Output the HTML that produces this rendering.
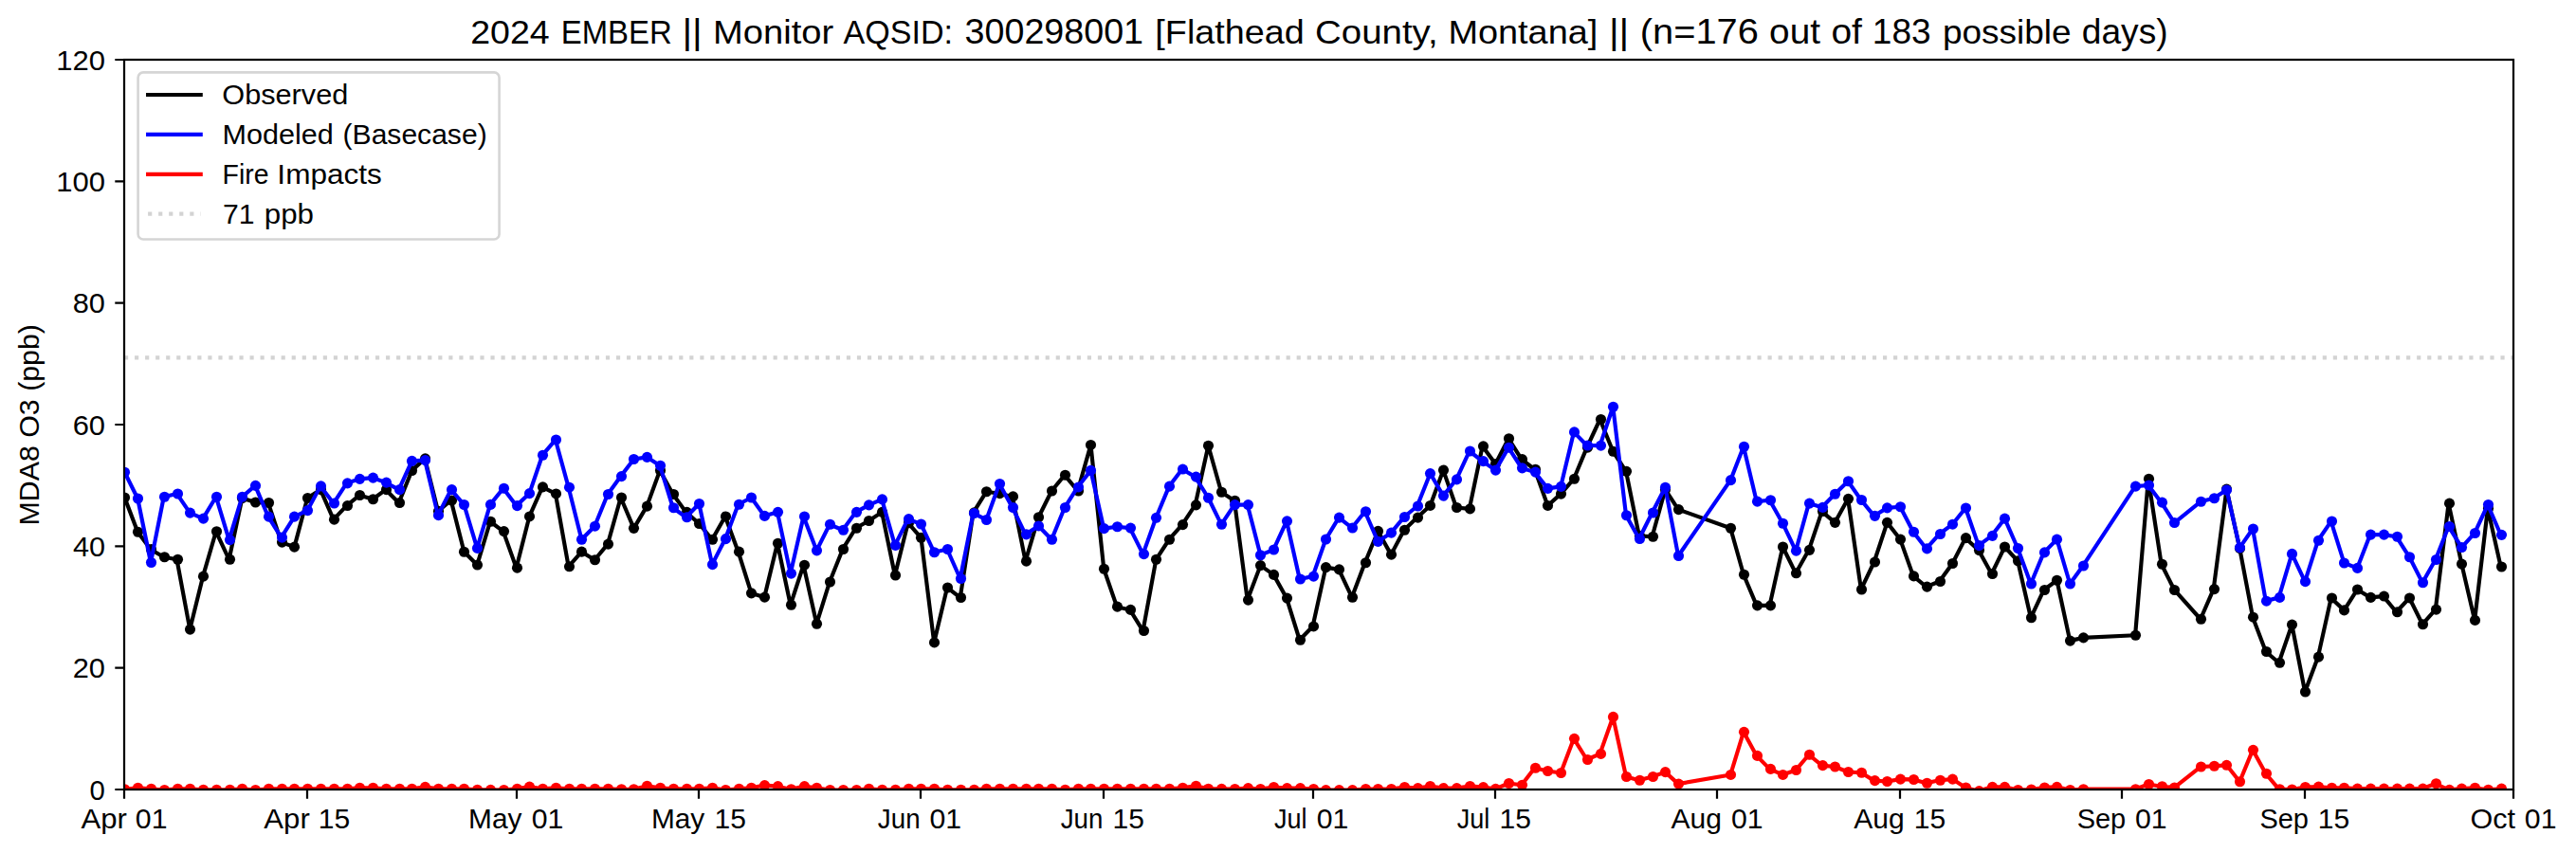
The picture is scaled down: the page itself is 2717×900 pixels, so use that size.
<!DOCTYPE html>
<html><head><meta charset="utf-8"><title>2024 EMBER Monitor 300298001</title><style>html,body{margin:0;padding:0;background:#fff;overflow:hidden}svg{display:block}</style></head><body>
<svg width="2717" height="900" viewBox="0 0 2717 900" font-family="'Liberation Sans', sans-serif">
<rect x="0" y="0" width="2717" height="900" fill="#fff"/>
<defs><clipPath id="ax"><rect x="131.0" y="63.0" width="2520.0" height="770.0"/></clipPath></defs>
<g clip-path="url(#ax)">
<path d="M131.45,524.99 L145.22,561.28 L158.99,579.68 L172.76,587.75 L186.53,590.27 L200.30,664.12 L214.07,608.16 L227.84,560.78 L241.61,590.27 L255.38,525.49 L269.15,530.03 L282.93,530.53 L296.70,572.12 L310.47,577.16 L324.24,525.49 L338.01,516.67 L351.78,548.18 L365.55,533.56 L379.32,522.47 L393.09,526.75 L406.86,516.67 L420.63,530.53 L434.40,496.51 L448.17,483.90 L461.94,539.35 L475.71,528.01 L489.48,582.20 L503.25,596.06 L517.02,550.25 L530.79,560.59 L544.56,599.16 L558.34,544.94 L572.11,513.92 L585.88,520.94 L599.65,597.81 L613.42,582.16 L627.19,590.80 L640.96,574.07 L654.73,524.98 L668.50,557.35 L682.27,534.15 L696.04,496.39 L709.81,521.48 L723.58,540.36 L737.35,552.49 L751.12,569.22 L764.89,544.94 L778.66,582.16 L792.43,625.86 L806.20,630.18 L819.97,573.26 L833.75,638.27 L847.52,596.19 L861.29,658.23 L875.06,613.99 L888.83,579.47 L902.60,557.23 L916.37,549.55 L930.14,540.38 L943.91,607.00 L957.68,551.71 L971.45,567.35 L985.22,677.94 L998.99,619.95 L1012.76,630.47 L1026.53,540.92 L1040.30,518.80 L1054.07,520.69 L1067.84,523.92 L1081.61,592.16 L1095.38,545.77 L1109.15,517.99 L1122.93,501.27 L1136.70,517.99 L1150.47,469.44 L1164.24,600.26 L1178.01,640.18 L1191.78,643.41 L1205.55,665.53 L1219.32,590.28 L1233.09,569.24 L1246.86,553.59 L1260.63,532.83 L1274.40,470.25 L1288.17,519.21 L1301.94,528.27 L1315.71,633.08 L1329.48,596.62 L1343.25,606.38 L1357.02,631.07 L1370.79,675.29 L1384.56,660.94 L1398.34,598.63 L1412.11,600.92 L1425.88,630.21 L1439.65,593.74 L1453.42,560.43 L1467.19,585.13 L1480.96,559.29 L1494.73,546.08 L1508.50,533.44 L1522.27,496.11 L1536.04,535.45 L1549.81,536.89 L1563.58,470.84 L1577.35,489.51 L1591.12,462.80 L1604.89,484.63 L1618.66,495.25 L1632.43,533.44 L1646.20,521.09 L1659.97,505.30 L1673.75,472.16 L1687.52,442.50 L1701.29,476.26 L1715.06,497.36 L1728.83,565.43 L1742.60,566.27 L1756.37,516.48 L1770.14,537.58 L1825.22,557.27 L1838.99,606.22 L1852.76,638.85 L1866.53,638.85 L1880.30,576.96 L1894.07,604.81 L1907.84,580.34 L1921.61,539.55 L1935.38,551.36 L1949.15,526.33 L1962.93,621.97 L1976.70,593.00 L1990.47,551.36 L2004.24,569.09 L2018.01,607.90 L2031.78,619.16 L2045.55,613.53 L2059.32,594.52 L2073.09,567.67 L2086.86,580.57 L2100.63,605.48 L2114.40,577.05 L2128.17,591.70 L2141.94,651.78 L2155.71,622.47 L2169.48,612.22 L2183.25,676.10 L2197.02,672.88 L2252.11,670.24 L2265.88,505.26 L2279.65,595.22 L2293.42,622.47 L2320.96,653.24 L2334.73,621.59 L2348.50,516.10 L2362.27,578.52 L2376.04,651.19 L2389.81,687.53 L2403.58,699.25 L2417.35,659.10 L2431.12,730.02 L2444.89,693.17 L2458.66,630.94 L2472.43,643.89 L2486.20,622.05 L2499.97,630.40 L2513.75,629.06 L2527.52,645.77 L2541.29,630.94 L2555.06,658.72 L2568.83,643.08 L2582.60,531.18 L2596.37,595.08 L2610.14,654.40 L2623.91,536.57 L2637.68,598.05" fill="none" stroke="#000000" stroke-width="4.167" stroke-linejoin="round" stroke-linecap="square"/>
<g fill="#000000"><circle cx="131.5" cy="524.99" r="5.56"/><circle cx="145.5" cy="561.28" r="5.56"/><circle cx="159.5" cy="579.68" r="5.56"/><circle cx="173.5" cy="587.75" r="5.56"/><circle cx="187.5" cy="590.27" r="5.56"/><circle cx="200.5" cy="664.12" r="5.56"/><circle cx="214.5" cy="608.16" r="5.56"/><circle cx="228.5" cy="560.78" r="5.56"/><circle cx="242.5" cy="590.27" r="5.56"/><circle cx="255.5" cy="525.49" r="5.56"/><circle cx="269.5" cy="530.03" r="5.56"/><circle cx="283.5" cy="530.53" r="5.56"/><circle cx="297.5" cy="572.12" r="5.56"/><circle cx="310.5" cy="577.16" r="5.56"/><circle cx="324.5" cy="525.49" r="5.56"/><circle cx="338.5" cy="516.67" r="5.56"/><circle cx="352.5" cy="548.18" r="5.56"/><circle cx="366.5" cy="533.56" r="5.56"/><circle cx="379.5" cy="522.47" r="5.56"/><circle cx="393.5" cy="526.75" r="5.56"/><circle cx="407.5" cy="516.67" r="5.56"/><circle cx="421.5" cy="530.53" r="5.56"/><circle cx="434.5" cy="496.51" r="5.56"/><circle cx="448.5" cy="483.90" r="5.56"/><circle cx="462.5" cy="539.35" r="5.56"/><circle cx="476.5" cy="528.01" r="5.56"/><circle cx="489.5" cy="582.20" r="5.56"/><circle cx="503.5" cy="596.06" r="5.56"/><circle cx="517.5" cy="550.25" r="5.56"/><circle cx="531.5" cy="560.59" r="5.56"/><circle cx="545.5" cy="599.16" r="5.56"/><circle cx="558.5" cy="544.94" r="5.56"/><circle cx="572.5" cy="513.92" r="5.56"/><circle cx="586.5" cy="520.94" r="5.56"/><circle cx="600.5" cy="597.81" r="5.56"/><circle cx="613.5" cy="582.16" r="5.56"/><circle cx="627.5" cy="590.80" r="5.56"/><circle cx="641.5" cy="574.07" r="5.56"/><circle cx="655.5" cy="524.98" r="5.56"/><circle cx="668.5" cy="557.35" r="5.56"/><circle cx="682.5" cy="534.15" r="5.56"/><circle cx="696.5" cy="496.39" r="5.56"/><circle cx="710.5" cy="521.48" r="5.56"/><circle cx="724.5" cy="540.36" r="5.56"/><circle cx="737.5" cy="552.49" r="5.56"/><circle cx="751.5" cy="569.22" r="5.56"/><circle cx="765.5" cy="544.94" r="5.56"/><circle cx="779.5" cy="582.16" r="5.56"/><circle cx="792.5" cy="625.86" r="5.56"/><circle cx="806.5" cy="630.18" r="5.56"/><circle cx="820.5" cy="573.26" r="5.56"/><circle cx="834.5" cy="638.27" r="5.56"/><circle cx="848.5" cy="596.19" r="5.56"/><circle cx="861.5" cy="658.23" r="5.56"/><circle cx="875.5" cy="613.99" r="5.56"/><circle cx="889.5" cy="579.47" r="5.56"/><circle cx="903.5" cy="557.23" r="5.56"/><circle cx="916.5" cy="549.55" r="5.56"/><circle cx="930.5" cy="540.38" r="5.56"/><circle cx="944.5" cy="607.00" r="5.56"/><circle cx="958.5" cy="551.71" r="5.56"/><circle cx="971.5" cy="567.35" r="5.56"/><circle cx="985.5" cy="677.94" r="5.56"/><circle cx="999.5" cy="619.95" r="5.56"/><circle cx="1013.5" cy="630.47" r="5.56"/><circle cx="1027.5" cy="540.92" r="5.56"/><circle cx="1040.5" cy="518.80" r="5.56"/><circle cx="1054.5" cy="520.69" r="5.56"/><circle cx="1068.5" cy="523.92" r="5.56"/><circle cx="1082.5" cy="592.16" r="5.56"/><circle cx="1095.5" cy="545.77" r="5.56"/><circle cx="1109.5" cy="517.99" r="5.56"/><circle cx="1123.5" cy="501.27" r="5.56"/><circle cx="1137.5" cy="517.99" r="5.56"/><circle cx="1150.5" cy="469.44" r="5.56"/><circle cx="1164.5" cy="600.26" r="5.56"/><circle cx="1178.5" cy="640.18" r="5.56"/><circle cx="1192.5" cy="643.41" r="5.56"/><circle cx="1206.5" cy="665.53" r="5.56"/><circle cx="1219.5" cy="590.28" r="5.56"/><circle cx="1233.5" cy="569.24" r="5.56"/><circle cx="1247.5" cy="553.59" r="5.56"/><circle cx="1261.5" cy="532.83" r="5.56"/><circle cx="1274.5" cy="470.25" r="5.56"/><circle cx="1288.5" cy="519.21" r="5.56"/><circle cx="1302.5" cy="528.27" r="5.56"/><circle cx="1316.5" cy="633.08" r="5.56"/><circle cx="1329.5" cy="596.62" r="5.56"/><circle cx="1343.5" cy="606.38" r="5.56"/><circle cx="1357.5" cy="631.07" r="5.56"/><circle cx="1371.5" cy="675.29" r="5.56"/><circle cx="1385.5" cy="660.94" r="5.56"/><circle cx="1398.5" cy="598.63" r="5.56"/><circle cx="1412.5" cy="600.92" r="5.56"/><circle cx="1426.5" cy="630.21" r="5.56"/><circle cx="1440.5" cy="593.74" r="5.56"/><circle cx="1453.5" cy="560.43" r="5.56"/><circle cx="1467.5" cy="585.13" r="5.56"/><circle cx="1481.5" cy="559.29" r="5.56"/><circle cx="1495.5" cy="546.08" r="5.56"/><circle cx="1508.5" cy="533.44" r="5.56"/><circle cx="1522.5" cy="496.11" r="5.56"/><circle cx="1536.5" cy="535.45" r="5.56"/><circle cx="1550.5" cy="536.89" r="5.56"/><circle cx="1564.5" cy="470.84" r="5.56"/><circle cx="1577.5" cy="489.51" r="5.56"/><circle cx="1591.5" cy="462.80" r="5.56"/><circle cx="1605.5" cy="484.63" r="5.56"/><circle cx="1619.5" cy="495.25" r="5.56"/><circle cx="1632.5" cy="533.44" r="5.56"/><circle cx="1646.5" cy="521.09" r="5.56"/><circle cx="1660.5" cy="505.30" r="5.56"/><circle cx="1674.5" cy="472.16" r="5.56"/><circle cx="1688.5" cy="442.50" r="5.56"/><circle cx="1701.5" cy="476.26" r="5.56"/><circle cx="1715.5" cy="497.36" r="5.56"/><circle cx="1729.5" cy="565.43" r="5.56"/><circle cx="1743.5" cy="566.27" r="5.56"/><circle cx="1756.5" cy="516.48" r="5.56"/><circle cx="1770.5" cy="537.58" r="5.56"/><circle cx="1825.5" cy="557.27" r="5.56"/><circle cx="1839.5" cy="606.22" r="5.56"/><circle cx="1853.5" cy="638.85" r="5.56"/><circle cx="1867.5" cy="638.85" r="5.56"/><circle cx="1880.5" cy="576.96" r="5.56"/><circle cx="1894.5" cy="604.81" r="5.56"/><circle cx="1908.5" cy="580.34" r="5.56"/><circle cx="1922.5" cy="539.55" r="5.56"/><circle cx="1935.5" cy="551.36" r="5.56"/><circle cx="1949.5" cy="526.33" r="5.56"/><circle cx="1963.5" cy="621.97" r="5.56"/><circle cx="1977.5" cy="593.00" r="5.56"/><circle cx="1990.5" cy="551.36" r="5.56"/><circle cx="2004.5" cy="569.09" r="5.56"/><circle cx="2018.5" cy="607.90" r="5.56"/><circle cx="2032.5" cy="619.16" r="5.56"/><circle cx="2046.5" cy="613.53" r="5.56"/><circle cx="2059.5" cy="594.52" r="5.56"/><circle cx="2073.5" cy="567.67" r="5.56"/><circle cx="2087.5" cy="580.57" r="5.56"/><circle cx="2101.5" cy="605.48" r="5.56"/><circle cx="2114.5" cy="577.05" r="5.56"/><circle cx="2128.5" cy="591.70" r="5.56"/><circle cx="2142.5" cy="651.78" r="5.56"/><circle cx="2156.5" cy="622.47" r="5.56"/><circle cx="2169.5" cy="612.22" r="5.56"/><circle cx="2183.5" cy="676.10" r="5.56"/><circle cx="2197.5" cy="672.88" r="5.56"/><circle cx="2252.5" cy="670.24" r="5.56"/><circle cx="2266.5" cy="505.26" r="5.56"/><circle cx="2280.5" cy="595.22" r="5.56"/><circle cx="2293.5" cy="622.47" r="5.56"/><circle cx="2321.5" cy="653.24" r="5.56"/><circle cx="2335.5" cy="621.59" r="5.56"/><circle cx="2348.5" cy="516.10" r="5.56"/><circle cx="2362.5" cy="578.52" r="5.56"/><circle cx="2376.5" cy="651.19" r="5.56"/><circle cx="2390.5" cy="687.53" r="5.56"/><circle cx="2404.5" cy="699.25" r="5.56"/><circle cx="2417.5" cy="659.10" r="5.56"/><circle cx="2431.5" cy="730.02" r="5.56"/><circle cx="2445.5" cy="693.17" r="5.56"/><circle cx="2459.5" cy="630.94" r="5.56"/><circle cx="2472.5" cy="643.89" r="5.56"/><circle cx="2486.5" cy="622.05" r="5.56"/><circle cx="2500.5" cy="630.40" r="5.56"/><circle cx="2514.5" cy="629.06" r="5.56"/><circle cx="2528.5" cy="645.77" r="5.56"/><circle cx="2541.5" cy="630.94" r="5.56"/><circle cx="2555.5" cy="658.72" r="5.56"/><circle cx="2569.5" cy="643.08" r="5.56"/><circle cx="2583.5" cy="531.18" r="5.56"/><circle cx="2596.5" cy="595.08" r="5.56"/><circle cx="2610.5" cy="654.40" r="5.56"/><circle cx="2624.5" cy="536.57" r="5.56"/><circle cx="2638.5" cy="598.05" r="5.56"/></g>
<path d="M131.45,498.27 L145.22,526.00 L158.99,593.54 L172.76,524.23 L186.53,520.95 L200.30,541.12 L214.07,547.17 L227.84,524.23 L241.61,569.60 L255.38,524.23 L269.15,512.39 L282.93,545.15 L296.70,567.08 L310.47,545.15 L324.24,538.60 L338.01,512.89 L351.78,531.04 L365.55,509.86 L379.32,505.33 L393.09,504.07 L406.86,509.11 L420.63,516.67 L434.40,486.42 L448.17,485.67 L461.94,543.64 L475.71,516.67 L489.48,532.55 L503.25,578.42 L517.02,532.41 L530.79,515.27 L544.56,533.61 L558.34,520.67 L572.11,480.21 L585.88,464.03 L599.65,514.19 L613.42,569.22 L627.19,555.19 L640.96,521.48 L654.73,502.60 L668.50,484.52 L682.27,482.37 L696.04,491.27 L709.81,535.77 L723.58,545.75 L737.35,531.46 L751.12,595.65 L764.89,568.68 L778.66,532.27 L792.43,524.98 L806.20,544.40 L819.97,540.36 L833.75,605.09 L847.52,544.94 L861.29,580.82 L875.06,553.30 L888.83,559.24 L902.60,540.37 L916.37,532.83 L930.14,526.89 L943.91,575.44 L957.68,547.66 L971.45,553.05 L985.22,582.72 L998.99,579.49 L1012.76,610.51 L1026.53,541.46 L1040.30,548.47 L1054.07,510.44 L1067.84,535.52 L1081.61,563.84 L1095.38,554.94 L1109.15,569.24 L1122.93,535.52 L1136.70,513.94 L1150.47,496.41 L1164.24,557.64 L1178.01,555.75 L1191.78,557.10 L1205.55,584.61 L1219.32,546.31 L1233.09,513.14 L1246.86,495.06 L1260.63,503.16 L1274.40,525.27 L1288.17,553.30 L1301.94,532.58 L1315.71,532.58 L1329.48,585.70 L1343.25,579.96 L1357.02,549.81 L1370.79,610.97 L1384.56,608.10 L1398.34,569.05 L1412.11,546.08 L1425.88,556.99 L1439.65,539.76 L1453.42,571.35 L1467.19,562.16 L1480.96,545.50 L1494.73,534.02 L1508.50,499.56 L1522.27,523.10 L1536.04,505.88 L1549.81,476.01 L1563.58,486.64 L1577.35,496.11 L1591.12,472.28 L1604.89,493.82 L1618.66,498.12 L1632.43,515.35 L1646.20,513.34 L1659.97,455.91 L1673.75,470.02 L1687.52,470.07 L1701.29,429.28 L1715.06,543.77 L1728.83,568.52 L1742.60,540.96 L1756.37,514.23 L1770.14,586.53 L1825.22,506.64 L1838.99,471.20 L1852.76,529.14 L1866.53,527.74 L1880.30,552.21 L1894.07,581.18 L1907.84,531.11 L1921.61,535.33 L1935.38,521.27 L1949.15,507.76 L1962.93,527.45 L1976.70,544.33 L1990.47,535.89 L2004.24,534.77 L2018.01,561.21 L2031.78,578.93 L2045.55,563.46 L2059.32,553.19 L2073.09,536.03 L2086.86,575.59 L2100.63,565.33 L2114.40,547.16 L2128.17,578.52 L2141.94,616.03 L2155.71,582.91 L2169.48,569.14 L2183.25,616.03 L2197.02,596.98 L2252.11,513.17 L2265.88,512.00 L2279.65,530.16 L2293.42,551.56 L2320.96,529.29 L2334.73,525.77 L2348.50,516.98 L2362.27,577.93 L2376.04,558.00 L2389.81,634.19 L2403.58,630.38 L2417.35,584.38 L2431.12,613.68 L2444.89,570.29 L2458.66,550.05 L2472.43,594.00 L2486.20,599.40 L2499.97,564.07 L2513.75,564.07 L2527.52,566.23 L2541.29,587.80 L2555.06,614.77 L2568.83,590.50 L2582.60,555.45 L2596.37,577.56 L2610.14,562.46 L2623.91,532.53 L2637.68,564.34" fill="none" stroke="#0000ff" stroke-width="4.167" stroke-linejoin="round" stroke-linecap="square"/>
<g fill="#0000ff"><circle cx="131.5" cy="498.27" r="5.56"/><circle cx="145.5" cy="526.00" r="5.56"/><circle cx="159.5" cy="593.54" r="5.56"/><circle cx="173.5" cy="524.23" r="5.56"/><circle cx="187.5" cy="520.95" r="5.56"/><circle cx="200.5" cy="541.12" r="5.56"/><circle cx="214.5" cy="547.17" r="5.56"/><circle cx="228.5" cy="524.23" r="5.56"/><circle cx="242.5" cy="569.60" r="5.56"/><circle cx="255.5" cy="524.23" r="5.56"/><circle cx="269.5" cy="512.39" r="5.56"/><circle cx="283.5" cy="545.15" r="5.56"/><circle cx="297.5" cy="567.08" r="5.56"/><circle cx="310.5" cy="545.15" r="5.56"/><circle cx="324.5" cy="538.60" r="5.56"/><circle cx="338.5" cy="512.89" r="5.56"/><circle cx="352.5" cy="531.04" r="5.56"/><circle cx="366.5" cy="509.86" r="5.56"/><circle cx="379.5" cy="505.33" r="5.56"/><circle cx="393.5" cy="504.07" r="5.56"/><circle cx="407.5" cy="509.11" r="5.56"/><circle cx="421.5" cy="516.67" r="5.56"/><circle cx="434.5" cy="486.42" r="5.56"/><circle cx="448.5" cy="485.67" r="5.56"/><circle cx="462.5" cy="543.64" r="5.56"/><circle cx="476.5" cy="516.67" r="5.56"/><circle cx="489.5" cy="532.55" r="5.56"/><circle cx="503.5" cy="578.42" r="5.56"/><circle cx="517.5" cy="532.41" r="5.56"/><circle cx="531.5" cy="515.27" r="5.56"/><circle cx="545.5" cy="533.61" r="5.56"/><circle cx="558.5" cy="520.67" r="5.56"/><circle cx="572.5" cy="480.21" r="5.56"/><circle cx="586.5" cy="464.03" r="5.56"/><circle cx="600.5" cy="514.19" r="5.56"/><circle cx="613.5" cy="569.22" r="5.56"/><circle cx="627.5" cy="555.19" r="5.56"/><circle cx="641.5" cy="521.48" r="5.56"/><circle cx="655.5" cy="502.60" r="5.56"/><circle cx="668.5" cy="484.52" r="5.56"/><circle cx="682.5" cy="482.37" r="5.56"/><circle cx="696.5" cy="491.27" r="5.56"/><circle cx="710.5" cy="535.77" r="5.56"/><circle cx="724.5" cy="545.75" r="5.56"/><circle cx="737.5" cy="531.46" r="5.56"/><circle cx="751.5" cy="595.65" r="5.56"/><circle cx="765.5" cy="568.68" r="5.56"/><circle cx="779.5" cy="532.27" r="5.56"/><circle cx="792.5" cy="524.98" r="5.56"/><circle cx="806.5" cy="544.40" r="5.56"/><circle cx="820.5" cy="540.36" r="5.56"/><circle cx="834.5" cy="605.09" r="5.56"/><circle cx="848.5" cy="544.94" r="5.56"/><circle cx="861.5" cy="580.82" r="5.56"/><circle cx="875.5" cy="553.30" r="5.56"/><circle cx="889.5" cy="559.24" r="5.56"/><circle cx="903.5" cy="540.37" r="5.56"/><circle cx="916.5" cy="532.83" r="5.56"/><circle cx="930.5" cy="526.89" r="5.56"/><circle cx="944.5" cy="575.44" r="5.56"/><circle cx="958.5" cy="547.66" r="5.56"/><circle cx="971.5" cy="553.05" r="5.56"/><circle cx="985.5" cy="582.72" r="5.56"/><circle cx="999.5" cy="579.49" r="5.56"/><circle cx="1013.5" cy="610.51" r="5.56"/><circle cx="1027.5" cy="541.46" r="5.56"/><circle cx="1040.5" cy="548.47" r="5.56"/><circle cx="1054.5" cy="510.44" r="5.56"/><circle cx="1068.5" cy="535.52" r="5.56"/><circle cx="1082.5" cy="563.84" r="5.56"/><circle cx="1095.5" cy="554.94" r="5.56"/><circle cx="1109.5" cy="569.24" r="5.56"/><circle cx="1123.5" cy="535.52" r="5.56"/><circle cx="1137.5" cy="513.94" r="5.56"/><circle cx="1150.5" cy="496.41" r="5.56"/><circle cx="1164.5" cy="557.64" r="5.56"/><circle cx="1178.5" cy="555.75" r="5.56"/><circle cx="1192.5" cy="557.10" r="5.56"/><circle cx="1206.5" cy="584.61" r="5.56"/><circle cx="1219.5" cy="546.31" r="5.56"/><circle cx="1233.5" cy="513.14" r="5.56"/><circle cx="1247.5" cy="495.06" r="5.56"/><circle cx="1261.5" cy="503.16" r="5.56"/><circle cx="1274.5" cy="525.27" r="5.56"/><circle cx="1288.5" cy="553.30" r="5.56"/><circle cx="1302.5" cy="532.58" r="5.56"/><circle cx="1316.5" cy="532.58" r="5.56"/><circle cx="1329.5" cy="585.70" r="5.56"/><circle cx="1343.5" cy="579.96" r="5.56"/><circle cx="1357.5" cy="549.81" r="5.56"/><circle cx="1371.5" cy="610.97" r="5.56"/><circle cx="1385.5" cy="608.10" r="5.56"/><circle cx="1398.5" cy="569.05" r="5.56"/><circle cx="1412.5" cy="546.08" r="5.56"/><circle cx="1426.5" cy="556.99" r="5.56"/><circle cx="1440.5" cy="539.76" r="5.56"/><circle cx="1453.5" cy="571.35" r="5.56"/><circle cx="1467.5" cy="562.16" r="5.56"/><circle cx="1481.5" cy="545.50" r="5.56"/><circle cx="1495.5" cy="534.02" r="5.56"/><circle cx="1508.5" cy="499.56" r="5.56"/><circle cx="1522.5" cy="523.10" r="5.56"/><circle cx="1536.5" cy="505.88" r="5.56"/><circle cx="1550.5" cy="476.01" r="5.56"/><circle cx="1564.5" cy="486.64" r="5.56"/><circle cx="1577.5" cy="496.11" r="5.56"/><circle cx="1591.5" cy="472.28" r="5.56"/><circle cx="1605.5" cy="493.82" r="5.56"/><circle cx="1619.5" cy="498.12" r="5.56"/><circle cx="1632.5" cy="515.35" r="5.56"/><circle cx="1646.5" cy="513.34" r="5.56"/><circle cx="1660.5" cy="455.91" r="5.56"/><circle cx="1674.5" cy="470.02" r="5.56"/><circle cx="1688.5" cy="470.07" r="5.56"/><circle cx="1701.5" cy="429.28" r="5.56"/><circle cx="1715.5" cy="543.77" r="5.56"/><circle cx="1729.5" cy="568.52" r="5.56"/><circle cx="1743.5" cy="540.96" r="5.56"/><circle cx="1756.5" cy="514.23" r="5.56"/><circle cx="1770.5" cy="586.53" r="5.56"/><circle cx="1825.5" cy="506.64" r="5.56"/><circle cx="1839.5" cy="471.20" r="5.56"/><circle cx="1853.5" cy="529.14" r="5.56"/><circle cx="1867.5" cy="527.74" r="5.56"/><circle cx="1880.5" cy="552.21" r="5.56"/><circle cx="1894.5" cy="581.18" r="5.56"/><circle cx="1908.5" cy="531.11" r="5.56"/><circle cx="1922.5" cy="535.33" r="5.56"/><circle cx="1935.5" cy="521.27" r="5.56"/><circle cx="1949.5" cy="507.76" r="5.56"/><circle cx="1963.5" cy="527.45" r="5.56"/><circle cx="1977.5" cy="544.33" r="5.56"/><circle cx="1990.5" cy="535.89" r="5.56"/><circle cx="2004.5" cy="534.77" r="5.56"/><circle cx="2018.5" cy="561.21" r="5.56"/><circle cx="2032.5" cy="578.93" r="5.56"/><circle cx="2046.5" cy="563.46" r="5.56"/><circle cx="2059.5" cy="553.19" r="5.56"/><circle cx="2073.5" cy="536.03" r="5.56"/><circle cx="2087.5" cy="575.59" r="5.56"/><circle cx="2101.5" cy="565.33" r="5.56"/><circle cx="2114.5" cy="547.16" r="5.56"/><circle cx="2128.5" cy="578.52" r="5.56"/><circle cx="2142.5" cy="616.03" r="5.56"/><circle cx="2156.5" cy="582.91" r="5.56"/><circle cx="2169.5" cy="569.14" r="5.56"/><circle cx="2183.5" cy="616.03" r="5.56"/><circle cx="2197.5" cy="596.98" r="5.56"/><circle cx="2252.5" cy="513.17" r="5.56"/><circle cx="2266.5" cy="512.00" r="5.56"/><circle cx="2280.5" cy="530.16" r="5.56"/><circle cx="2293.5" cy="551.56" r="5.56"/><circle cx="2321.5" cy="529.29" r="5.56"/><circle cx="2335.5" cy="525.77" r="5.56"/><circle cx="2348.5" cy="516.98" r="5.56"/><circle cx="2362.5" cy="577.93" r="5.56"/><circle cx="2376.5" cy="558.00" r="5.56"/><circle cx="2390.5" cy="634.19" r="5.56"/><circle cx="2404.5" cy="630.38" r="5.56"/><circle cx="2417.5" cy="584.38" r="5.56"/><circle cx="2431.5" cy="613.68" r="5.56"/><circle cx="2445.5" cy="570.29" r="5.56"/><circle cx="2459.5" cy="550.05" r="5.56"/><circle cx="2472.5" cy="594.00" r="5.56"/><circle cx="2486.5" cy="599.40" r="5.56"/><circle cx="2500.5" cy="564.07" r="5.56"/><circle cx="2514.5" cy="564.07" r="5.56"/><circle cx="2528.5" cy="566.23" r="5.56"/><circle cx="2541.5" cy="587.80" r="5.56"/><circle cx="2555.5" cy="614.77" r="5.56"/><circle cx="2569.5" cy="590.50" r="5.56"/><circle cx="2583.5" cy="555.45" r="5.56"/><circle cx="2596.5" cy="577.56" r="5.56"/><circle cx="2610.5" cy="562.46" r="5.56"/><circle cx="2624.5" cy="532.53" r="5.56"/><circle cx="2638.5" cy="564.34" r="5.56"/></g>
<path d="M131.45,832.76 L145.22,831.21 L158.99,832.30 L172.76,833.54 L186.53,832.30 L200.30,832.30 L214.07,833.23 L227.84,833.23 L241.61,833.23 L255.38,832.30 L269.15,833.54 L282.93,832.30 L296.70,832.30 L310.47,832.30 L324.24,832.30 L338.01,832.30 L351.78,832.30 L365.55,832.30 L379.32,831.21 L393.09,831.21 L406.86,832.30 L420.63,832.30 L434.40,832.30 L448.17,830.43 L461.94,832.30 L475.71,832.30 L489.48,832.30 L503.25,833.23 L517.02,833.39 L530.79,833.54 L544.56,832.30 L558.34,830.12 L572.11,832.30 L585.88,831.21 L599.65,832.30 L613.42,832.30 L627.19,832.30 L640.96,832.30 L654.73,832.76 L668.50,832.76 L682.27,829.19 L696.04,831.21 L709.81,832.30 L723.58,832.30 L737.35,832.30 L751.12,831.21 L764.89,833.54 L778.66,832.30 L792.43,831.21 L806.20,828.57 L819.97,829.66 L833.75,832.76 L847.52,829.66 L861.29,831.21 L875.06,833.54 L888.83,833.54 L902.60,833.54 L916.37,832.30 L930.14,833.23 L943.91,833.23 L957.68,832.30 L971.45,832.30 L985.22,832.30 L998.99,833.23 L1012.76,833.23 L1026.53,833.23 L1040.30,832.30 L1054.07,832.30 L1067.84,832.30 L1081.61,832.30 L1095.38,832.30 L1109.15,832.30 L1122.93,833.23 L1136.70,832.30 L1150.47,832.30 L1164.24,832.30 L1178.01,832.30 L1191.78,832.30 L1205.55,832.30 L1219.32,832.30 L1233.09,832.30 L1246.86,831.21 L1260.63,829.19 L1274.40,832.30 L1288.17,832.42 L1301.94,832.55 L1315.71,831.61 L1329.48,832.55 L1343.25,830.53 L1357.02,831.61 L1370.79,831.61 L1384.56,832.55 L1398.34,833.63 L1412.11,833.63 L1425.88,833.63 L1439.65,832.55 L1453.42,832.55 L1467.19,832.55 L1480.96,830.53 L1494.73,831.61 L1508.50,829.44 L1522.27,831.61 L1536.04,831.61 L1549.81,829.44 L1563.58,830.56 L1577.35,832.33 L1591.12,826.52 L1604.89,828.27 L1618.66,810.22 L1632.43,813.48 L1646.20,815.46 L1659.97,779.36 L1673.75,801.48 L1687.52,795.43 L1701.29,756.41 L1715.06,819.53 L1728.83,823.26 L1742.60,819.53 L1756.37,814.64 L1770.14,827.10 L1825.22,817.44 L1838.99,772.37 L1852.76,797.41 L1866.53,811.38 L1880.30,817.44 L1894.07,812.55 L1907.84,796.24 L1921.61,807.66 L1935.38,809.05 L1949.15,814.53 L1962.93,815.23 L1976.70,823.61 L1990.47,824.54 L2004.24,822.10 L2018.01,822.45 L2031.78,826.29 L2045.55,823.26 L2059.32,822.10 L2073.09,830.95 L2086.86,834.67 L2100.63,830.36 L2114.40,830.36 L2128.17,833.51 L2141.94,832.99 L2155.71,830.95 L2169.48,830.36 L2183.25,833.51 L2197.02,832.69 L2252.11,832.69 L2265.88,827.45 L2279.65,829.78 L2293.42,830.95 L2320.96,809.05 L2334.73,808.24 L2348.50,807.31 L2362.27,824.77 L2376.04,791.35 L2389.81,816.27 L2403.58,832.69 L2417.35,833.04 L2431.12,830.54 L2444.89,830.09 L2458.66,831.25 L2472.43,831.25 L2486.20,832.14 L2499.97,832.14 L2513.75,832.14 L2527.52,832.14 L2541.29,832.14 L2555.06,832.14 L2568.83,826.79 L2582.60,833.39 L2596.37,832.14 L2610.14,831.25 L2623.91,833.21 L2637.68,832.14" fill="none" stroke="#ff0000" stroke-width="4.167" stroke-linejoin="round" stroke-linecap="square"/>
<g fill="#ff0000"><circle cx="131.5" cy="832.76" r="5.56"/><circle cx="145.5" cy="831.21" r="5.56"/><circle cx="159.5" cy="832.30" r="5.56"/><circle cx="173.5" cy="833.54" r="5.56"/><circle cx="187.5" cy="832.30" r="5.56"/><circle cx="200.5" cy="832.30" r="5.56"/><circle cx="214.5" cy="833.23" r="5.56"/><circle cx="228.5" cy="833.23" r="5.56"/><circle cx="242.5" cy="833.23" r="5.56"/><circle cx="255.5" cy="832.30" r="5.56"/><circle cx="269.5" cy="833.54" r="5.56"/><circle cx="283.5" cy="832.30" r="5.56"/><circle cx="297.5" cy="832.30" r="5.56"/><circle cx="310.5" cy="832.30" r="5.56"/><circle cx="324.5" cy="832.30" r="5.56"/><circle cx="338.5" cy="832.30" r="5.56"/><circle cx="352.5" cy="832.30" r="5.56"/><circle cx="366.5" cy="832.30" r="5.56"/><circle cx="379.5" cy="831.21" r="5.56"/><circle cx="393.5" cy="831.21" r="5.56"/><circle cx="407.5" cy="832.30" r="5.56"/><circle cx="421.5" cy="832.30" r="5.56"/><circle cx="434.5" cy="832.30" r="5.56"/><circle cx="448.5" cy="830.43" r="5.56"/><circle cx="462.5" cy="832.30" r="5.56"/><circle cx="476.5" cy="832.30" r="5.56"/><circle cx="489.5" cy="832.30" r="5.56"/><circle cx="503.5" cy="833.23" r="5.56"/><circle cx="517.5" cy="833.39" r="5.56"/><circle cx="531.5" cy="833.54" r="5.56"/><circle cx="545.5" cy="832.30" r="5.56"/><circle cx="558.5" cy="830.12" r="5.56"/><circle cx="572.5" cy="832.30" r="5.56"/><circle cx="586.5" cy="831.21" r="5.56"/><circle cx="600.5" cy="832.30" r="5.56"/><circle cx="613.5" cy="832.30" r="5.56"/><circle cx="627.5" cy="832.30" r="5.56"/><circle cx="641.5" cy="832.30" r="5.56"/><circle cx="655.5" cy="832.76" r="5.56"/><circle cx="668.5" cy="832.76" r="5.56"/><circle cx="682.5" cy="829.19" r="5.56"/><circle cx="696.5" cy="831.21" r="5.56"/><circle cx="710.5" cy="832.30" r="5.56"/><circle cx="724.5" cy="832.30" r="5.56"/><circle cx="737.5" cy="832.30" r="5.56"/><circle cx="751.5" cy="831.21" r="5.56"/><circle cx="765.5" cy="833.54" r="5.56"/><circle cx="779.5" cy="832.30" r="5.56"/><circle cx="792.5" cy="831.21" r="5.56"/><circle cx="806.5" cy="828.57" r="5.56"/><circle cx="820.5" cy="829.66" r="5.56"/><circle cx="834.5" cy="832.76" r="5.56"/><circle cx="848.5" cy="829.66" r="5.56"/><circle cx="861.5" cy="831.21" r="5.56"/><circle cx="875.5" cy="833.54" r="5.56"/><circle cx="889.5" cy="833.54" r="5.56"/><circle cx="903.5" cy="833.54" r="5.56"/><circle cx="916.5" cy="832.30" r="5.56"/><circle cx="930.5" cy="833.23" r="5.56"/><circle cx="944.5" cy="833.23" r="5.56"/><circle cx="958.5" cy="832.30" r="5.56"/><circle cx="971.5" cy="832.30" r="5.56"/><circle cx="985.5" cy="832.30" r="5.56"/><circle cx="999.5" cy="833.23" r="5.56"/><circle cx="1013.5" cy="833.23" r="5.56"/><circle cx="1027.5" cy="833.23" r="5.56"/><circle cx="1040.5" cy="832.30" r="5.56"/><circle cx="1054.5" cy="832.30" r="5.56"/><circle cx="1068.5" cy="832.30" r="5.56"/><circle cx="1082.5" cy="832.30" r="5.56"/><circle cx="1095.5" cy="832.30" r="5.56"/><circle cx="1109.5" cy="832.30" r="5.56"/><circle cx="1123.5" cy="833.23" r="5.56"/><circle cx="1137.5" cy="832.30" r="5.56"/><circle cx="1150.5" cy="832.30" r="5.56"/><circle cx="1164.5" cy="832.30" r="5.56"/><circle cx="1178.5" cy="832.30" r="5.56"/><circle cx="1192.5" cy="832.30" r="5.56"/><circle cx="1206.5" cy="832.30" r="5.56"/><circle cx="1219.5" cy="832.30" r="5.56"/><circle cx="1233.5" cy="832.30" r="5.56"/><circle cx="1247.5" cy="831.21" r="5.56"/><circle cx="1261.5" cy="829.19" r="5.56"/><circle cx="1274.5" cy="832.30" r="5.56"/><circle cx="1288.5" cy="832.42" r="5.56"/><circle cx="1302.5" cy="832.55" r="5.56"/><circle cx="1316.5" cy="831.61" r="5.56"/><circle cx="1329.5" cy="832.55" r="5.56"/><circle cx="1343.5" cy="830.53" r="5.56"/><circle cx="1357.5" cy="831.61" r="5.56"/><circle cx="1371.5" cy="831.61" r="5.56"/><circle cx="1385.5" cy="832.55" r="5.56"/><circle cx="1398.5" cy="833.63" r="5.56"/><circle cx="1412.5" cy="833.63" r="5.56"/><circle cx="1426.5" cy="833.63" r="5.56"/><circle cx="1440.5" cy="832.55" r="5.56"/><circle cx="1453.5" cy="832.55" r="5.56"/><circle cx="1467.5" cy="832.55" r="5.56"/><circle cx="1481.5" cy="830.53" r="5.56"/><circle cx="1495.5" cy="831.61" r="5.56"/><circle cx="1508.5" cy="829.44" r="5.56"/><circle cx="1522.5" cy="831.61" r="5.56"/><circle cx="1536.5" cy="831.61" r="5.56"/><circle cx="1550.5" cy="829.44" r="5.56"/><circle cx="1564.5" cy="830.56" r="5.56"/><circle cx="1577.5" cy="832.33" r="5.56"/><circle cx="1591.5" cy="826.52" r="5.56"/><circle cx="1605.5" cy="828.27" r="5.56"/><circle cx="1619.5" cy="810.22" r="5.56"/><circle cx="1632.5" cy="813.48" r="5.56"/><circle cx="1646.5" cy="815.46" r="5.56"/><circle cx="1660.5" cy="779.36" r="5.56"/><circle cx="1674.5" cy="801.48" r="5.56"/><circle cx="1688.5" cy="795.43" r="5.56"/><circle cx="1701.5" cy="756.41" r="5.56"/><circle cx="1715.5" cy="819.53" r="5.56"/><circle cx="1729.5" cy="823.26" r="5.56"/><circle cx="1743.5" cy="819.53" r="5.56"/><circle cx="1756.5" cy="814.64" r="5.56"/><circle cx="1770.5" cy="827.10" r="5.56"/><circle cx="1825.5" cy="817.44" r="5.56"/><circle cx="1839.5" cy="772.37" r="5.56"/><circle cx="1853.5" cy="797.41" r="5.56"/><circle cx="1867.5" cy="811.38" r="5.56"/><circle cx="1880.5" cy="817.44" r="5.56"/><circle cx="1894.5" cy="812.55" r="5.56"/><circle cx="1908.5" cy="796.24" r="5.56"/><circle cx="1922.5" cy="807.66" r="5.56"/><circle cx="1935.5" cy="809.05" r="5.56"/><circle cx="1949.5" cy="814.53" r="5.56"/><circle cx="1963.5" cy="815.23" r="5.56"/><circle cx="1977.5" cy="823.61" r="5.56"/><circle cx="1990.5" cy="824.54" r="5.56"/><circle cx="2004.5" cy="822.10" r="5.56"/><circle cx="2018.5" cy="822.45" r="5.56"/><circle cx="2032.5" cy="826.29" r="5.56"/><circle cx="2046.5" cy="823.26" r="5.56"/><circle cx="2059.5" cy="822.10" r="5.56"/><circle cx="2073.5" cy="830.95" r="5.56"/><circle cx="2087.5" cy="834.67" r="5.56"/><circle cx="2101.5" cy="830.36" r="5.56"/><circle cx="2114.5" cy="830.36" r="5.56"/><circle cx="2128.5" cy="833.51" r="5.56"/><circle cx="2142.5" cy="832.99" r="5.56"/><circle cx="2156.5" cy="830.95" r="5.56"/><circle cx="2169.5" cy="830.36" r="5.56"/><circle cx="2183.5" cy="833.51" r="5.56"/><circle cx="2197.5" cy="832.69" r="5.56"/><circle cx="2252.5" cy="832.69" r="5.56"/><circle cx="2266.5" cy="827.45" r="5.56"/><circle cx="2280.5" cy="829.78" r="5.56"/><circle cx="2293.5" cy="830.95" r="5.56"/><circle cx="2321.5" cy="809.05" r="5.56"/><circle cx="2335.5" cy="808.24" r="5.56"/><circle cx="2348.5" cy="807.31" r="5.56"/><circle cx="2362.5" cy="824.77" r="5.56"/><circle cx="2376.5" cy="791.35" r="5.56"/><circle cx="2390.5" cy="816.27" r="5.56"/><circle cx="2404.5" cy="832.69" r="5.56"/><circle cx="2417.5" cy="833.04" r="5.56"/><circle cx="2431.5" cy="830.54" r="5.56"/><circle cx="2445.5" cy="830.09" r="5.56"/><circle cx="2459.5" cy="831.25" r="5.56"/><circle cx="2472.5" cy="831.25" r="5.56"/><circle cx="2486.5" cy="832.14" r="5.56"/><circle cx="2500.5" cy="832.14" r="5.56"/><circle cx="2514.5" cy="832.14" r="5.56"/><circle cx="2528.5" cy="832.14" r="5.56"/><circle cx="2541.5" cy="832.14" r="5.56"/><circle cx="2555.5" cy="832.14" r="5.56"/><circle cx="2569.5" cy="826.79" r="5.56"/><circle cx="2583.5" cy="833.39" r="5.56"/><circle cx="2596.5" cy="832.14" r="5.56"/><circle cx="2610.5" cy="831.25" r="5.56"/><circle cx="2624.5" cy="833.21" r="5.56"/><circle cx="2638.5" cy="832.14" r="5.56"/></g>
<line x1="131.0" y1="377.42" x2="2651.0" y2="377.42" stroke="#d3d3d3" stroke-width="4.167" stroke-dasharray="4.1667 6.875"/>
</g>
<rect x="131.0" y="63.0" width="2520.0" height="770.0" fill="none" stroke="#000" stroke-width="2.222" stroke-linejoin="miter"/>
<path d="M121.28,833.00H131.0 M121.28,704.67H131.0 M121.28,576.33H131.0 M121.28,448.00H131.0 M121.28,319.67H131.0 M121.28,191.33H131.0 M121.28,63.00H131.0 M131.00,833.0V842.72 M324.00,833.0V842.72 M545.00,833.0V842.72 M737.00,833.0V842.72 M971.00,833.0V842.72 M1164.00,833.0V842.72 M1385.00,833.0V842.72 M1577.00,833.0V842.72 M1811.00,833.0V842.72 M2004.00,833.0V842.72 M2238.00,833.0V842.72 M2431.00,833.0V842.72 M2651.00,833.0V842.72" stroke="#000" stroke-width="2.222" fill="none"/>
<g fill="#000">
<text transform="translate(95.74,843.50) scale(0.9672,1)" x="-1.18" font-size="30.28">0</text>
<text transform="translate(78.28,715.17) scale(1.0160,1)" x="-1.52" font-size="30.28">20</text>
<text transform="translate(77.61,586.83) scale(1.0109,1)" x="-0.70" font-size="30.28">40</text>
<text transform="translate(78.19,458.50) scale(1.0196,1)" x="-1.54" font-size="30.28">60</text>
<text transform="translate(78.13,330.17) scale(1.0141,1)" x="-1.32" font-size="30.28">80</text>
<text transform="translate(61.65,201.83) scale(1.0234,1)" x="-2.31" font-size="30.28">100</text>
<text transform="translate(61.65,73.50) scale(1.0234,1)" x="-2.31" font-size="30.28">120</text>
<text transform="translate(85.60,873.70) scale(1.0276,1)" x="-0.06" font-size="30.28">Apr</text><text transform="translate(144.04,873.70) scale(0.9978,1)" x="-1.18" font-size="30.28">01</text>
<text transform="translate(278.38,873.70) scale(1.0276,1)" x="-0.06" font-size="30.28">Apr</text><text transform="translate(338.05,873.70) scale(0.9923,1)" x="-2.31" font-size="30.28">15</text>
<text transform="translate(496.54,873.70) scale(0.9857,1)" x="-2.48" font-size="30.28">May</text><text transform="translate(561.84,873.70) scale(0.9978,1)" x="-1.18" font-size="30.28">01</text>
<text transform="translate(689.33,873.70) scale(0.9857,1)" x="-2.48" font-size="30.28">May</text><text transform="translate(755.84,873.70) scale(0.9923,1)" x="-2.31" font-size="30.28">15</text>
<text transform="translate(926.27,873.70) scale(0.9160,1)" x="-0.47" font-size="30.28">Jun</text><text transform="translate(981.72,873.70) scale(0.9978,1)" x="-1.18" font-size="30.28">01</text>
<text transform="translate(1119.05,873.70) scale(0.9160,1)" x="-0.47" font-size="30.28">Jun</text><text transform="translate(1175.72,873.70) scale(0.9923,1)" x="-2.31" font-size="30.28">15</text>
<text transform="translate(1344.32,873.70) scale(0.8934,1)" x="-0.47" font-size="30.28">Jul</text><text transform="translate(1389.89,873.70) scale(0.9978,1)" x="-1.18" font-size="30.28">01</text>
<text transform="translate(1537.11,873.70) scale(0.8934,1)" x="-0.47" font-size="30.28">Jul</text><text transform="translate(1583.90,873.70) scale(0.9923,1)" x="-2.31" font-size="30.28">15</text>
<text transform="translate(1762.51,873.70) scale(0.9930,1)" x="-0.06" font-size="30.28">Aug</text><text transform="translate(1827.13,873.70) scale(0.9978,1)" x="-1.18" font-size="30.28">01</text>
<text transform="translate(1955.30,873.70) scale(0.9930,1)" x="-0.06" font-size="30.28">Aug</text><text transform="translate(2021.14,873.70) scale(0.9923,1)" x="-2.31" font-size="30.28">15</text>
<text transform="translate(2191.95,873.70) scale(0.9566,1)" x="-1.38" font-size="30.28">Sep</text><text transform="translate(2253.07,873.70) scale(0.9978,1)" x="-1.18" font-size="30.28">01</text>
<text transform="translate(2384.74,873.70) scale(0.9566,1)" x="-1.38" font-size="30.28">Sep</text><text transform="translate(2447.08,873.70) scale(0.9923,1)" x="-2.31" font-size="30.28">15</text>
<text transform="translate(2606.95,873.70) scale(1.0079,1)" x="-1.43" font-size="30.28">Oct</text><text transform="translate(2664.03,873.70) scale(0.9978,1)" x="-1.18" font-size="30.28">01</text>
<text transform="translate(498.05,46.00) scale(1.0427,1)" x="-1.81" font-size="36.00">2024</text><text transform="translate(594.42,46.00) scale(0.9132,1)" x="-2.95" font-size="36.00">EMBER</text><text transform="translate(723.05,46.00) scale(1.1406,1)" x="-3.22" font-size="36.00">||</text><text transform="translate(755.19,46.00) scale(1.0596,1)" x="-2.95" font-size="36.00">Monitor</text><text transform="translate(889.65,46.00) scale(0.9454,1)" x="-0.07" font-size="36.00">AQSID:</text><text transform="translate(1018.99,46.00) scale(1.0462,1)" x="-1.37" font-size="36.00">300298001</text><text transform="translate(1221.03,46.00) scale(1.0485,1)" x="-2.56" font-size="36.00">[Flathead</text><text transform="translate(1389.00,46.00) scale(1.0674,1)" x="-1.83" font-size="36.00">County,</text><text transform="translate(1530.48,46.00) scale(1.0527,1)" x="-2.95" font-size="36.00">Montana]</text><text transform="translate(1700.59,46.00) scale(1.1406,1)" x="-3.22" font-size="36.00">||</text><text transform="translate(1732.31,46.00) scale(1.1047,1)" x="-2.23" font-size="36.00">(n=176</text><text transform="translate(1867.74,46.00) scale(1.0764,1)" x="-1.51" font-size="36.00">out</text><text transform="translate(1933.01,46.00) scale(1.0826,1)" x="-1.51" font-size="36.00">of</text><text transform="translate(1977.61,46.00) scale(1.0279,1)" x="-2.74" font-size="36.00">183</text><text transform="translate(2051.28,46.00) scale(1.0274,1)" x="-2.32" font-size="36.00">possible</text><text transform="translate(2197.35,46.00) scale(1.0320,1)" x="-1.51" font-size="36.00">days)</text>
<text transform="translate(40.90,552.00) rotate(-90) scale(1.0026,1)" x="-2.48" font-size="30.28">MDA8 O3 (ppb)</text>
</g>
<rect x="145.6" y="76.4" width="381.0" height="176.1" rx="5.56" ry="5.56" fill="#fff" fill-opacity="0.8" stroke="#d5d5d5" stroke-width="2.6"/>
<line x1="156.1" y1="100.0" x2="211.7" y2="100.0" stroke="#000000" stroke-width="4.167" stroke-linecap="square"/>
<text transform="translate(235.76,109.80) scale(1.0131,1)" x="-1.43" font-size="30.28">Observed</text>
<line x1="156.1" y1="141.9" x2="211.7" y2="141.9" stroke="#0000ff" stroke-width="4.167" stroke-linecap="square"/>
<text transform="translate(236.93,151.70) scale(1.0104,1)" x="-2.48" font-size="30.28">Modeled</text><text transform="translate(363.41,151.70) scale(0.9934,1)" x="-1.88" font-size="30.28">(Basecase)</text>
<line x1="156.1" y1="183.8" x2="211.7" y2="183.8" stroke="#ff0000" stroke-width="4.167" stroke-linecap="square"/>
<text transform="translate(236.93,193.60) scale(0.9389,1)" x="-2.48" font-size="30.28">Fire</text><text transform="translate(295.28,193.60) scale(1.0426,1)" x="-2.80" font-size="30.28">Impacts</text>
<line x1="156.1" y1="225.7" x2="211.7" y2="225.7" stroke="#d3d3d3" stroke-width="4.167" stroke-dasharray="4.1667 6.875"/>
<text transform="translate(236.48,235.50) scale(0.9952,1)" x="-1.55" font-size="30.28">71</text><text transform="translate(280.85,235.50) scale(1.0331,1)" x="-1.95" font-size="30.28">ppb</text>
</svg>
</body></html>
